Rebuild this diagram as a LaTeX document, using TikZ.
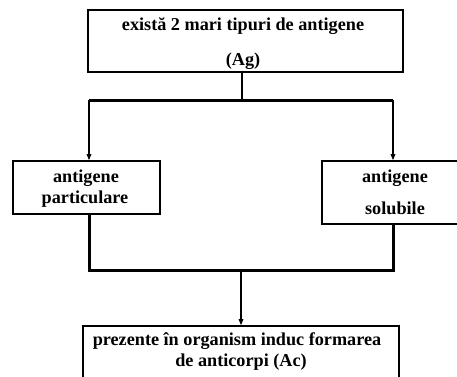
\documentclass[tikz,border=0pt]{standalone}
\usepackage{fontspec}
\setmainfont{Liberation Serif}
\usetikzlibrary{arrows.meta}
\begin{document}
\begin{tikzpicture}[x=1pt,y=-1pt,
  box/.style={draw=black,line width=1.6pt,rectangle,inner sep=0pt,anchor=center},
  lbl/.style={inner sep=0pt,anchor=base,font=\fontsize{18.2}{21}\selectfont\bfseries},
  bus/.style={line width=3pt},
  stem/.style={line width=1.8pt},
  feed/.style={line width=1.2pt,-{Triangle[length=6pt,width=4.5pt]}}]
\useasboundingbox (0,0) rectangle (457,376);
\clip (0,0) rectangle (457,376);
\fill[white] (0,0) rectangle (457,376);

% boxes
\node[box,minimum width=315pt,minimum height=62pt] (top) at (245.5,41) {};
\node[box,minimum width=147pt,minimum height=53pt] (left) at (86.5,187.5) {};
\node[box,minimum width=146pt,minimum height=63pt] (right) at (395,192.5) {};
\node[box,minimum width=316pt,minimum height=62pt] (bottom) at (241,357) {};

% labels
\node[lbl] (t1) at (243,30) {există 2 mari tipuri de antigene};
\node[lbl] (t2) at (243,65) {(Ag)};
\node[lbl] (l1) at (86,182) {antigene};
\node[lbl] (l2) at (85,203) {particulare};
\node[lbl] (r1) at (395,182) {antigene};
\node[lbl] (r2) at (395,214) {solubile};
\node[lbl] (b1) at (237,345) {prezente în organism induc formarea};
\node[lbl] (b2) at (241,366) {de anticorpi (Ac)};

% junction points
\coordinate (split) at (242,100);
\coordinate (la) at (89,100);
\coordinate (ra) at (393,100);
\coordinate (lb) at (89,270);
\coordinate (rb) at (393,270);
\coordinate (mb) at (241,270);

% upper branching
\draw[stem] (split |- top.south) -- (split);
\draw[bus] (la) -- (ra);
\draw[feed] (la) -- (la |- left.north);
\draw[feed] (ra) -- (ra |- right.north);

% lower merge
\draw[bus] (la |- left.south) -- (lb) -- (rb) -- (ra |- right.south);
\draw[feed] (mb) -- (mb |- bottom.north);
\end{tikzpicture}
\end{document}
